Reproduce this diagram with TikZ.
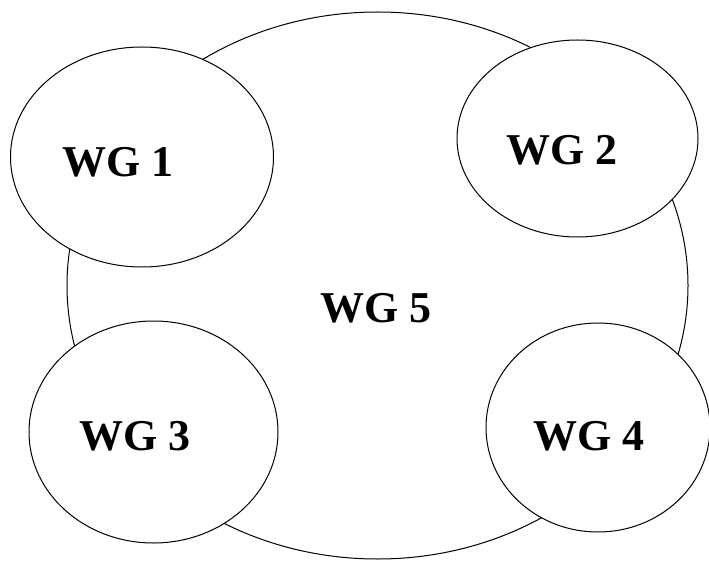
\documentclass[tikz,border=0pt]{standalone}
\usepackage{fontspec}
\setmainfont{Liberation Serif}
\usepackage{tikz}
\usetikzlibrary{shapes.geometric}

\tikzset{
  wg/.style={ellipse,draw,line width=1pt,fill=white,inner sep=0pt},
  wglabel/.style={font=\fontsize{44}{50}\selectfont\bfseries,inner sep=0pt}
}

\begin{document}
\begin{tikzpicture}[x=1pt,y=-1pt]
\useasboundingbox (0,0) rectangle (709,561);

\node[wg,minimum width=621pt,minimum height=547pt] (WG5) at (377.5, 285.5) {};

\node[wg,minimum width=263pt,minimum height=220pt] (WG1) at (142, 157) {};
\node[wg,minimum width=241pt,minimum height=197pt] (WG2) at (577.5, 138.5) {};
\node[wg,minimum width=249pt,minimum height=222pt] (WG3) at (153.5, 432) {};
\node[wg,minimum width=224pt,minimum height=209pt] (WG4) at (598, 427.5) {};

\node[wglabel] (L1) at (118, 162) {WG 1};
\node[wglabel] (L2) at (562, 150) {WG 2};
\node[wglabel] (L3) at (135, 436) {WG 3};
\node[wglabel] (L4) at (589, 436) {WG 4};
\node[wglabel] (L5) at (376, 308) {WG 5};

\end{tikzpicture}
\end{document}
